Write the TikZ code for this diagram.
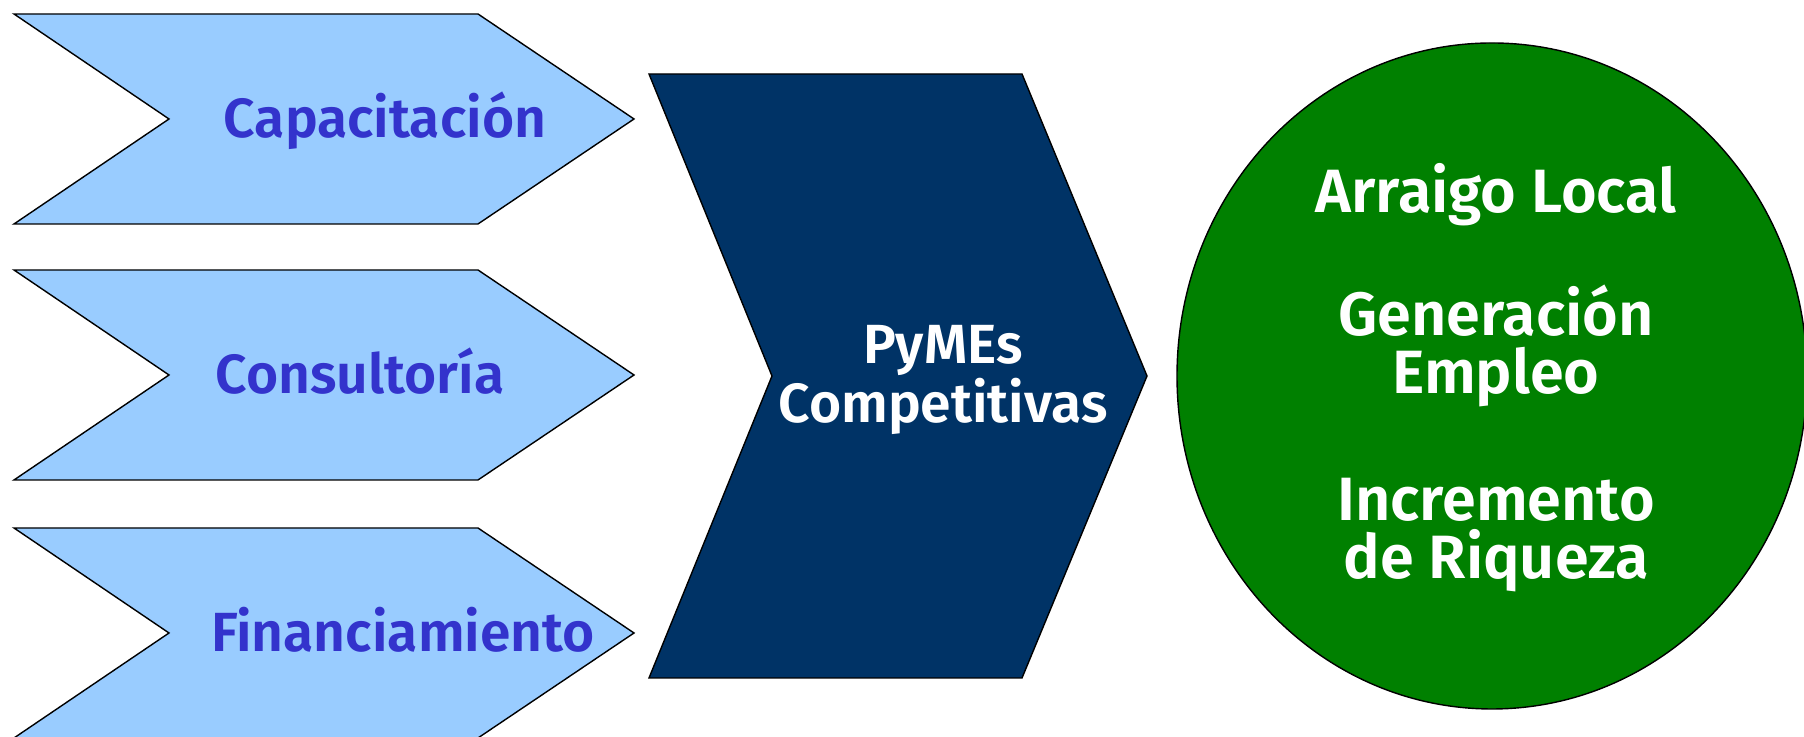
\documentclass[tikz,border=0pt]{standalone}
\usepackage{fontspec}
\setmainfont{Fira Sans}[BoldFont={Fira Sans SemiBold}]
\usepackage{tikz}

\definecolor{chevblue}{HTML}{99CCFF}
\definecolor{labelblue}{HTML}{3333CC}
\definecolor{pymenavy}{HTML}{003366}
\definecolor{roundgreen}{HTML}{008000}

\tikzset{
    lbl/.style={font=\bfseries\fontsize{15.7}{15.5}\selectfont, align=center, anchor=base, inner sep=0pt},
    biglbl/.style={lbl, font=\bfseries\fontsize{17.4}{16.5}\selectfont},
}

\begin{document}
\begin{tikzpicture}
        \clip (0,0) rectangle (18.04,7.37);
        % light chevrons
        \filldraw[fill=chevblue, draw=black] (0.14,7.23) -- (4.78,7.23) -- (6.34,6.18) -- (4.78,5.13) -- (0.14,5.13) -- (1.69,6.18) -- cycle;
        \filldraw[fill=chevblue, draw=black] (0.14,4.67) -- (4.78,4.67) -- (6.34,3.62) -- (4.78,2.57) -- (0.14,2.57) -- (1.69,3.62) -- cycle;
        \filldraw[fill=chevblue, draw=black] (0.14,2.09) -- (4.78,2.09) -- (6.34,1.04) -- (4.78,-0.01) -- (0.14,-0.01) -- (1.69,1.04) -- cycle;

        % dark chevron
        \filldraw[fill=pymenavy, draw=black] (6.49,6.63) -- (10.22,6.63) -- (11.47,3.61) -- (10.22,0.59) -- (6.49,0.59) -- (7.72,3.61) -- cycle;

        % circle
        \filldraw[fill=roundgreen, draw=black] (14.92,3.61) ellipse [x radius=3.15, y radius=3.33];

        % labels (base = last line)
        \node[lbl, text=labelblue] (cap) at (3.85,5.99) {Capacitación};
        \node[lbl, text=labelblue] (cons) at (3.60,3.43) {Consultoría};
        \node[lbl, text=labelblue] (fin) at (4.03,0.85) {Financiamiento};
        \node[lbl, text=white] (pymes) at (9.43,3.14) {PyMEs\\Competitivas};
        \node[biglbl, text=white] (arraigo) at (14.96,5.24) {Arraigo Local};
        \node[biglbl, text=white] (empleo) at (14.96,3.43) {Generación\\Empleo};
        \node[biglbl, text=white] (riqueza) at (14.96,1.58) {Incremento\\de Riqueza};
    \end{tikzpicture}
\end{document}
